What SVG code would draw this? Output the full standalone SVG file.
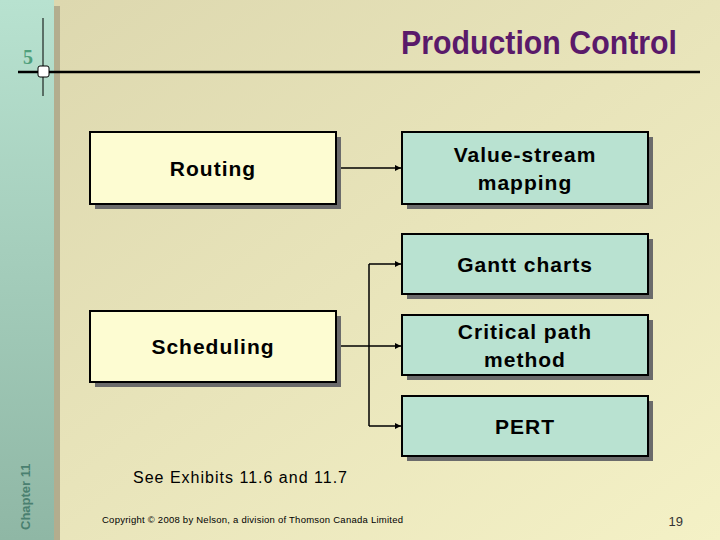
<svg xmlns="http://www.w3.org/2000/svg" width="720" height="540" viewBox="0 0 720 540">
<defs>
<linearGradient id="bg" x1="0" y1="0" x2="1" y2="1"><stop offset="0" stop-color="#dcd7ae"/><stop offset="1" stop-color="#f4f1c6"/></linearGradient>
<linearGradient id="side" x1="0" y1="0" x2="0" y2="1"><stop offset="0" stop-color="#b8e2d0"/><stop offset="1" stop-color="#8fb7a5"/></linearGradient>
<marker id="ar" markerWidth="6" markerHeight="6" refX="6" refY="3" orient="auto" markerUnits="userSpaceOnUse"><path d="M0,0 L6,3 L0,6 z" fill="#000"/></marker>
<style>
.sh{fill:#6b6b6b}
.y{fill:#fdfcd2;stroke:#000;stroke-width:2}
.g{fill:#b9e2d1;stroke:#000;stroke-width:2}
.t{font-family:"Liberation Sans",Arial,sans-serif;font-weight:bold;font-size:21px;letter-spacing:1px;text-anchor:middle;fill:#000}
.c{fill:none;stroke:#000;stroke-width:1.5}
</style>
</defs>
<rect width="720" height="540" fill="url(#bg)"/>
<rect width="54" height="540" fill="url(#side)"/>
<rect x="54" y="6" width="6" height="534" fill="#b3ad8e"/>
<line x1="18" y1="72" x2="700" y2="72" stroke="#000" stroke-width="2.5"/>
<line x1="43" y1="18" x2="43" y2="96" stroke="#000" stroke-width="1"/>
<rect x="38" y="66" width="11" height="11" rx="2" fill="#fff" stroke="#000"/>
<text x="28" y="64" font-family="Liberation Serif,serif" font-size="20" font-weight="bold" fill="#4fa07c" text-anchor="middle">5</text>
<text x="677" y="54" font-family="Liberation Sans Narrow,Liberation Sans,sans-serif" font-weight="bold" font-size="33" fill="#5a1a6a" text-anchor="end" textLength="276" lengthAdjust="spacingAndGlyphs">Production Control</text>
<text transform="translate(30,530) rotate(-90)" font-family="Liberation Sans,sans-serif" font-size="13" font-weight="bold" fill="#4a8070">Chapter 11</text>
<g id="connectors">
<path class="c" d="M336,168 H401" marker-end="url(#ar)"/>
<path class="c" d="M336,346 H401" marker-end="url(#ar)"/>
<path class="c" d="M369,264 V426" />
<path class="c" d="M369,264 H401" marker-end="url(#ar)"/>
<path class="c" d="M369,426 H401" marker-end="url(#ar)"/>
</g>
<g id="routing"><rect class="sh" x="95" y="137" width="246" height="72"/><rect class="y" x="90" y="132" width="246" height="72"/><text class="t" x="213" y="176">Routing</text></g>
<g id="scheduling"><rect class="sh" x="95" y="316" width="246" height="71"/><rect class="y" x="90" y="311" width="246" height="71"/><text class="t" x="213" y="354">Scheduling</text></g>
<g id="vsm"><rect class="sh" x="407" y="137" width="246" height="72"/><rect class="g" x="402" y="132" width="246" height="72"/><text class="t" x="525" y="162">Value-stream</text><text class="t" x="525" y="190">mapping</text></g>
<g id="gantt"><rect class="sh" x="407" y="239" width="246" height="60"/><rect class="g" x="402" y="234" width="246" height="60"/><text class="t" x="525" y="272">Gantt charts</text></g>
<g id="cpm"><rect class="sh" x="407" y="320" width="246" height="60"/><rect class="g" x="402" y="315" width="246" height="60"/><text class="t" x="525" y="339">Critical path</text><text class="t" x="525" y="367">method</text></g>
<g id="pert"><rect class="sh" x="407" y="401" width="246" height="60"/><rect class="g" x="402" y="396" width="246" height="60"/><text class="t" x="525" y="434">PERT</text></g>
<text x="133" y="483" font-family="Liberation Sans,sans-serif" font-size="16" fill="#000" textLength="214">See Exhibits 11.6 and 11.7</text>
<text x="102" y="523" font-family="Liberation Sans,sans-serif" font-size="9.5" fill="#000" textLength="301">Copyright © 2008 by Nelson, a division of Thomson Canada Limited</text>
<text x="683" y="526" font-family="Liberation Sans,sans-serif" font-size="13" fill="#333" text-anchor="end">19</text>
</svg>
